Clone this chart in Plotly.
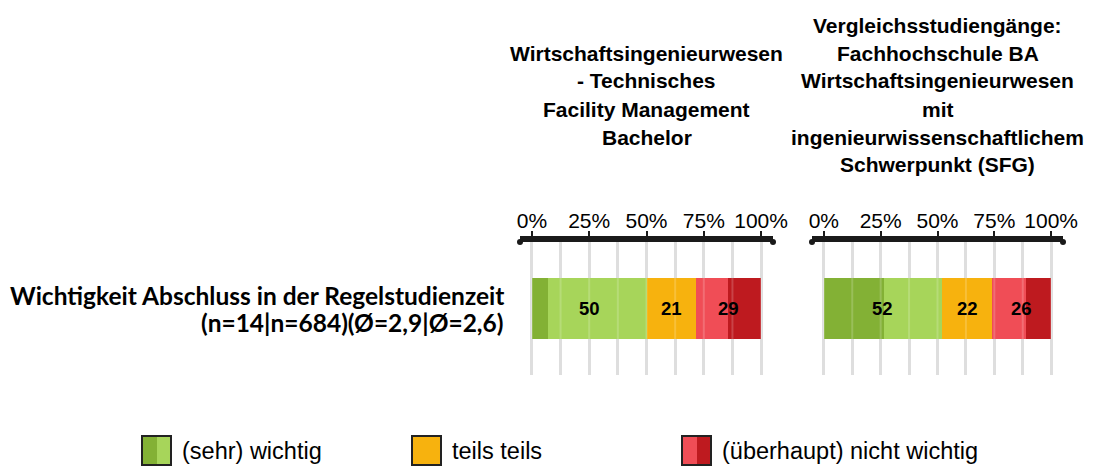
import plotly.graph_objects as go

# data
row_label = ["Wichtigkeit Abschluss in der Regelstudienzeit", "(n=14|n=684)(Ø=2,9|Ø=2,6)"]
panel_titles = [
    ["Wirtschaftsingenieurwesen", "- Technisches", "Facility Management", "Bachelor"],
    ["Vergleichsstudiengänge:", "Fachhochschule BA", "Wirtschaftsingenieurwesen", "mit",
     "ingenieurwissenschaftlichem", "Schwerpunkt (SFG)"],
]
segments = ["sehr wichtig", "wichtig", "teils teils", "nicht wichtig", "überhaupt nicht wichtig"]
seg_colors = ["#83b135", "#a7d55a", "#f7b20e", "#f04d56", "#be1a1f"]
left_vals = [7.1, 42.9, 21.4, 14.3, 14.3]
right_vals = [26.3, 25.7, 22.0, 15.0, 11.0]
groups = [[0, 1], [2], [3, 4]]
legend_labels = ["(sehr) wichtig", "teils teils", "(überhaupt) nicht wichtig"]
legend_colors = [["#83b135", "#a7d55a"], ["#f7b20e", "#f7b20e"], ["#f04d56", "#be1a1f"]]
tick_vals = [0, 25, 50, 75, 100]
tick_text = ["0%", "25%", "50%", "75%", "100%"]

# page body has an 8px margin, so the figure is a bit smaller than the window
OFF = 8
W, H = 1100 - OFF, 469 - OFF
def px(x):
    return (x - OFF) / W
def py(y):
    return 1 - (y - OFF) / H

TITLE_FONT = "Liberation Sans, Arial"
fig = go.Figure()

for i, vals in enumerate([left_vals, right_vals]):
    xa = "x" if i == 0 else "x2"
    ya = "y" if i == 0 else "y2"
    for name, c, v in zip(segments, seg_colors, vals):
        fig.add_trace(go.Bar(x=[v], y=["r"], orientation="h", name=name,
                             marker=dict(color=c, line_width=0), width=0.46,
                             xaxis=xa, yaxis=ya, showlegend=False, hoverinfo="skip"))
    # faint grid lines showing through the bars
    for g in range(9):
        fig.add_shape(type="line", xref=xa, yref=ya, x0=g * 12.5, x1=g * 12.5, y0=-0.23, y1=0.23,
                      line=dict(color="rgba(255,255,255,0.18)", width=2))
    # value labels centred on each group
    start = 0
    for g in groups:
        tot = sum(vals[k] for k in g)
        fig.add_annotation(x=start + tot / 2, y="r", xref=xa, yref=ya, text="<b>%d</b>" % round(tot),
                           showarrow=False, font=dict(family="Liberation Sans, Arial", size=18.5, color="black"))
        start += tot
    # rounded ends of the axis line
    for d in [0, 1]:
        fig.add_shape(type="circle", xref=xa + " domain", yref=ya + " domain",
                      xsizemode="pixel", ysizemode="pixel", xanchor=d, yanchor=1,
                      x0=-3, x1=3, y0=-3, y1=3, fillcolor="#1a1a1a", line_width=0)

    # panel title lines
    cx = 646.5 if i == 0 else 937.5
    lines = panel_titles[i]
    n = len(lines)
    for j, t in enumerate(lines):
        yy = 95 + (j - (n - 1) / 2) * 28
        fig.add_annotation(x=px(cx), y=py(yy), xref="paper", yref="paper", text="<b>%s</b>" % t,
                           showarrow=False, xanchor="center", yanchor="middle",
                           font=dict(family=TITLE_FONT, size=21, color="black"))

# row label
for j, t in enumerate(row_label):
    fig.add_annotation(x=px(506), y=py(295 + 27 * j), xref="paper", yref="paper", text="<b>%s</b>" % t,
                       showarrow=False, xanchor="right", yanchor="middle",
                       font=dict(family="Lato, Carlito, Calibri", size=24.5, color="black"))

# legend
leg_x = [142, 412, 682]
for lx, lab, cols in zip(leg_x, legend_labels, legend_colors):
    fig.add_shape(type="rect", xref="paper", yref="paper", x0=px(lx), x1=px(lx + 15), y0=py(465), y1=py(436),
                  fillcolor=cols[0], line_width=0)
    fig.add_shape(type="rect", xref="paper", yref="paper", x0=px(lx + 15), x1=px(lx + 29), y0=py(465), y1=py(436),
                  fillcolor=cols[1], line_width=0)
    fig.add_shape(type="rect", xref="paper", yref="paper", x0=px(lx), x1=px(lx + 29), y0=py(465), y1=py(436),
                  fillcolor="rgba(0,0,0,0)", line=dict(color="#222", width=2))
    fig.add_annotation(x=px(lx + 38), y=py(451), xref="paper", yref="paper", text=lab, showarrow=False,
                       xanchor="left", yanchor="middle",
                       font=dict(family="Liberation Sans, Arial", size=23.5, color="black"))

axis_common = dict(range=[-5.2, 105.2], side="top", tickvals=tick_vals, ticktext=tick_text,
                   showline=True, linecolor="#1a1a1a", linewidth=6,
                   ticks="outside", ticklen=5, tickwidth=2, tickcolor="#1a1a1a",
                   ticklabelstandoff=-5,
                   showgrid=True, gridcolor="#dedede", gridwidth=3,
                   minor=dict(dtick=12.5, tick0=0, showgrid=True, gridcolor="#dedede", gridwidth=3),
                   tickfont=dict(family=TITLE_FONT, size=21, color="black"),
                   zeroline=False, fixedrange=True, automargin=False)
yd = [py(375), py(242)]
fig.update_layout(
    width=W, height=H, margin=dict(l=0, r=0, t=0, b=0, autoexpand=False),
    paper_bgcolor="white", plot_bgcolor="white", barmode="stack",
    xaxis=dict(domain=[px(520), px(773)], anchor="y", **axis_common),
    xaxis2=dict(domain=[px(812), px(1063)], anchor="y2", **axis_common),
    yaxis=dict(domain=yd, range=[-0.5, 0.5], visible=False, anchor="x", automargin=False),
    yaxis2=dict(domain=yd, range=[-0.5, 0.5], visible=False, anchor="x2", automargin=False),
)

fig.write_html("out.html")
